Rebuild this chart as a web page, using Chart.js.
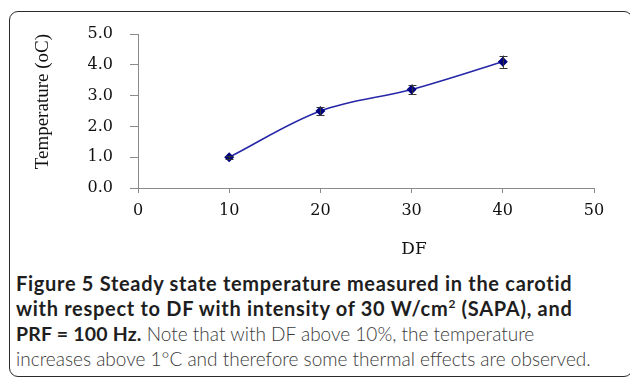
<!DOCTYPE html>
<html lang="en">
  <head>
    <meta charset="UTF-8" />
    <title>Steady state temperature vs DF</title>
    <style>
      body {
        margin: 0;
        background: #fff;
        width: 630px;
        height: 378px;
        overflow: hidden;
        position: relative;
      }
      #frame {
        position: absolute;
        left: 9px;
        top: 11px;
        width: 622px;
        height: 364px;
        border: 1.5px solid #2a2a2a;
        border-radius: 9px;
      }
      #wrap {
        position: absolute;
        left: 0;
        top: 0;
        width: 630px;
        height: 262px;
      }
      #xtitle {
        position: absolute;
        left: 414px;
        top: 240px;
        transform: translateX(-50%);
        font-family: "DejaVu Serif", serif;
        font-size: 17px;
        line-height: 17px;
        color: #111;
      }
      #caption {
        position: absolute;
        left: 16px;
        top: 271px;
        font-family: Lato, "Open Sans", sans-serif;
        font-size: 19px;
        line-height: 25px;
        white-space: nowrap;
        color: #3a3a3a;
        font-weight: 300;
      }
      #caption b {
        font-weight: 700;
        font-size: 20px;
        letter-spacing: 0.7px;
        color: #1e1e1e;
      }
      #caption b.short {
        letter-spacing: 0.2px;
        font-size: 19.5px;
      }
      #caption sup {
        font-size: 12px;
        line-height: 0;
      }
    </style>
    <script src="https://cdn.jsdelivr.net/npm/chart.js"></script>
  </head>
  <body>
    <div id="frame"></div>
    <div id="wrap"><canvas id="tempChart" width="630" height="262"></canvas></div>
    <div id="xtitle">DF</div>
    <div id="caption">
      <b>Figure 5 Steady state temperature measured in the carotid</b><br />
      <b>with respect to DF with intensity of 30 W/cm<sup>2</sup> (SAPA), and</b><br />
      <b class="short">PRF = 100 Hz.</b> Note that with DF above 10%, the temperature<br />
      increases above 1°C and therefore some thermal effects are observed.
    </div>

    <script>
      // data
      const dutyFactor = [10, 20, 30, 40];
      const temperature = [1.0, 2.5, 3.2, 4.1];
      const tempError = [0.05, 0.12, 0.16, 0.2];

      const xTicks = [0, 10, 20, 30, 40, 50];
      const yTicks = [0, 1, 2, 3, 4, 5];

      // error bars drawn through the chart scales
      const errorBars = {
        id: "errorBars",
        afterDatasetsDraw(chart) {
          const { ctx, scales } = chart;
          const x = scales.x, y = scales.y;
          ctx.save();
          ctx.strokeStyle = "#333";
          ctx.lineWidth = 1;
          dutyFactor.forEach((df, i) => {
            const px = Math.round(x.getPixelForValue(df)) + 0.5;
            const top = y.getPixelForValue(temperature[i] + tempError[i]);
            const bot = y.getPixelForValue(temperature[i] - tempError[i]);
            ctx.beginPath();
            ctx.moveTo(px, top);
            ctx.lineTo(px, bot);
            ctx.moveTo(px - 4, Math.round(top) + 0.5);
            ctx.lineTo(px + 4, Math.round(top) + 0.5);
            ctx.moveTo(px - 4, Math.round(bot) + 0.5);
            ctx.lineTo(px + 4, Math.round(bot) + 0.5);
            ctx.stroke();
          });
          ctx.restore();
        },
      };

      const tickFont = { family: "'DejaVu Serif', serif", size: 16 };

      new Chart(document.getElementById("tempChart"), {
        type: "line",
        data: {
          datasets: [
            {
              data: dutyFactor.map((d, i) => ({ x: d, y: temperature[i] })),
              borderColor: "#2626a8",
              borderWidth: 1.5,
              tension: 0.35,
              pointStyle: "rectRot",
              pointRadius: 5,
              pointBackgroundColor: "#000080",
              pointBorderColor: "#000080",
              pointBorderWidth: 0,
            },
          ],
        },
        options: {
          responsive: false,
          animation: false,
          layout: { padding: { left: 0, right: 36, top: 34, bottom: 0 } },
          plugins: { legend: { display: false }, tooltip: { enabled: false } },
          scales: {
            x: {
              type: "linear",
              min: xTicks[0],
              max: xTicks[xTicks.length - 1],
              afterBuildTicks: (s) => { s.ticks = xTicks.map((v) => ({ value: v })); },
              afterFit: (s) => { s.height = 262 - 188; },
              border: { color: "#8a8a8a", width: 1 },
              grid: { drawOnChartArea: false, drawTicks: true, tickLength: 5, color: "#8a8a8a" },
              ticks: { font: tickFont, color: "#111", padding: 8, maxRotation: 0 },
            },
            y: {
              min: yTicks[0],
              max: yTicks[yTicks.length - 1],
              afterBuildTicks: (s) => { s.ticks = yTicks.map((v) => ({ value: v })); },
              afterFit: (s) => { s.width = 138; },
              border: { color: "#8a8a8a", width: 1 },
              grid: { drawOnChartArea: false, drawTicks: true, tickLength: 8, color: "#8a8a8a" },
              ticks: {
                font: tickFont,
                color: "#111",
                padding: 17,
                callback: (v) => Number(v).toFixed(1),
              },
              title: {
                display: true,
                text: "Temperature (oC)",
                align: "end",
                color: "#111",
                font: { family: "'Liberation Serif', serif", size: 19 },
                padding: { top: 32, bottom: 0 },
              },
            },
          },
        },
        plugins: [errorBars],
      });
    </script>
  </body>
</html>
